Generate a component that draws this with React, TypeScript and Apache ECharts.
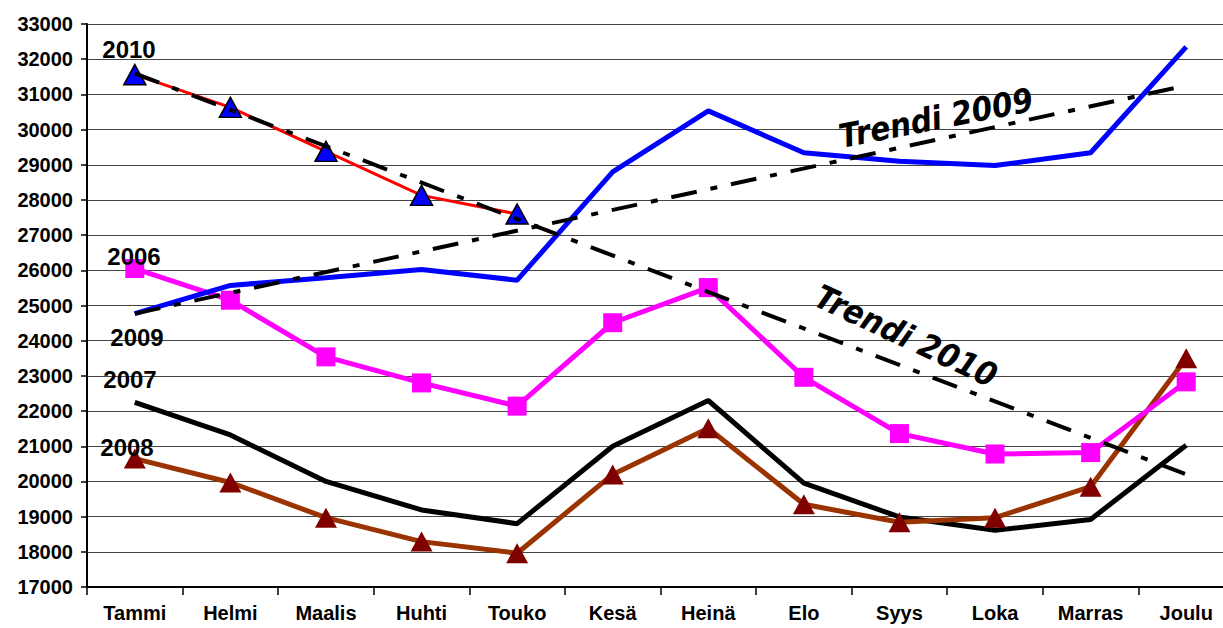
import React, { useEffect, useRef } from "react";
import * as echarts from "echarts";

const months = ["Tammi", "Helmi", "Maalis", "Huhti", "Touko", "Kesä", "Heinä", "Elo", "Syys", "Loka", "Marras", "Joulu"];
const y2006 = [26050, 25150, 23540, 22800, 22140, 24510, 25510, 22960, 21360, 20780, 20820, 22830];
const y2007 = [22250, 21320, 20000, 19190, 18800, 21000, 22300, 19950, 18990, 18610, 18920, 21030];
const y2008 = [20650, 19970, 18970, 18290, 17960, 20200, 21510, 19350, 18840, 18970, 19850, 23500];
const y2009 = [24770, 25570, 25790, 26020, 25720, 28800, 30530, 29340, 29100, 28980, 29340, 32350];
const y2010 = [31560, 30630, 29380, 28130, 27600, null, null, null, null, null, null, null];
const trend2009 = [24770, null, null, null, null, null, null, null, null, null, null, 31250];
const trend2010 = [31600, null, null, null, null, null, null, null, null, null, null, 20200];
const yearLabels = [
  { text: "2010", x: 129, y: 49 },
  { text: "2006", x: 134, y: 256 },
  { text: "2009", x: 137, y: 337 },
  { text: "2007", x: 130, y: 379 },
  { text: "2008", x: 127, y: 447 },
];

const FONT = "'Liberation Sans', Arial, sans-serif";
const TFONT = "'Liberation Sans Narrow', 'DejaVu Sans Condensed', sans-serif";

export default function App() {
  const ref = useRef<HTMLDivElement>(null);
  useEffect(() => {
    document.body.style.margin = "0";
    const chart = echarts.init(ref.current!, null, { renderer: "svg" });
    const trendDash = [26, 14, 7, 14];
    chart.setOption({
      animation: false,
      backgroundColor: "#ffffff",
      grid: { left: 87, right: 0, top: 24, bottom: 41 },
      xAxis: {
        type: "category",
        data: months,
        boundaryGap: true,
        axisLine: { lineStyle: { color: "#000", width: 2 } },
        axisTick: { show: true, length: 8, lineStyle: { color: "#000", width: 1.5 } },
        axisLabel: { color: "#000", fontFamily: FONT, fontWeight: "bold", fontSize: 20, margin: 16 },
      },
      yAxis: {
        type: "value",
        min: 17000,
        max: 33000,
        interval: 1000,
        axisLine: { show: true, lineStyle: { color: "#000", width: 2 } },
        axisTick: { show: true, length: 6, lineStyle: { color: "#000", width: 1.5 } },
        axisLabel: {
          color: "#000", fontFamily: FONT, fontWeight: "bold", fontSize: 20, margin: 14,
          formatter: (v: number) => String(v),
        },
        splitLine: { show: true, lineStyle: { color: "#444", width: 1 } },
      },
      series: [
        {
          name: "2007", type: "line", data: y2007, showSymbol: false, symbol: "none",
          lineStyle: { color: "#000000", width: 5 }, z: 2,
        },
        {
          name: "2008", type: "line", data: y2008, symbol: "triangle", symbolSize: [22, 20],
          lineStyle: { color: "#993300", width: 5 }, itemStyle: { color: "#800000" }, z: 3,
        },
        {
          name: "2006", type: "line", data: y2006, symbol: "rect", symbolSize: 19,
          lineStyle: { color: "#FF00FF", width: 5 }, itemStyle: { color: "#FF00FF" }, z: 4,
        },
        {
          name: "2009", type: "line", data: y2009, showSymbol: false, symbol: "none",
          lineStyle: { color: "#0000FF", width: 5 }, z: 5,
        },
        {
          name: "2010", type: "line", data: y2010, symbol: "triangle", symbolSize: [22, 20],
          lineStyle: { color: "#FF0000", width: 3 },
          itemStyle: { color: "#0000FF", borderColor: "#000", borderWidth: 1.5 }, z: 6,
        },
        {
          name: "Trendi 2009", type: "line", data: trend2009, connectNulls: true, showSymbol: false, symbol: "none",
          lineStyle: { color: "#000", width: 4, type: trendDash }, z: 7,
        },
        {
          name: "Trendi 2010", type: "line", data: trend2010, connectNulls: true, showSymbol: false, symbol: "none",
          lineStyle: { color: "#000", width: 4, type: trendDash }, z: 7,
        },
      ],
      graphic: [
        ...yearLabels.map((l) => ({
          type: "text",
          x: l.x,
          y: l.y,
          z: 100,
          style: {
            text: l.text, fill: "#000", font: `bold 24px ${FONT}`,
            textAlign: "center", textVerticalAlign: "middle",
          },
        })),
        {
          type: "text", x: 936, y: 118, rotation: (11 * Math.PI) / 180, z: 100,
          style: {
            text: "Trendi 2009", fill: "#000", font: `italic bold 33px ${TFONT}`,
            textAlign: "center", textVerticalAlign: "middle",
          },
        },
        {
          type: "text", x: 906, y: 336, rotation: (-25 * Math.PI) / 180, z: 100,
          style: {
            text: "Trendi 2010", fill: "#000", font: `italic bold 33px ${TFONT}`,
            textAlign: "center", textVerticalAlign: "middle",
          },
        },
      ],
    });
    return () => chart.dispose();
  }, []);
  return (
    <div style={{ width: 1223, height: 628, overflow: "hidden" }}>
      <div ref={ref} style={{ width: 1234, height: 628 }} />
    </div>
  );
}
